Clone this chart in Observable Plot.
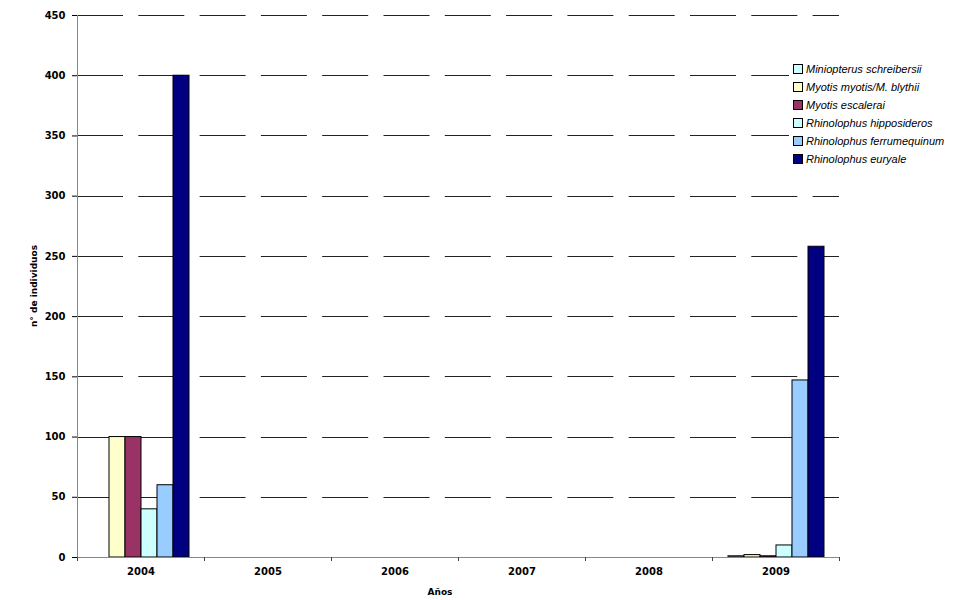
<!DOCTYPE html>
<html><head><meta charset="utf-8">
<script src="https://cdn.jsdelivr.net/npm/d3@7"></script>
<script src="https://cdn.jsdelivr.net/npm/@observablehq/plot@0.6"></script>
<style>
body{margin:0;background:#fff;}
#wrap{position:relative;width:956px;height:600px;}
#legend{position:absolute;left:789px;top:60px;background:#fff;padding:0 6px 0 4px;font:italic 11px "Liberation Sans",Arial,sans-serif;color:#000;}
.item{display:flex;align-items:center;height:18px;white-space:nowrap;}
.sw{width:8px;height:8px;border:1px solid #000;margin-right:3px;flex:none;}
</style></head><body><div id="wrap"><div id="legend"></div></div>
<script>
const years = ["2004", "2005", "2006", "2007", "2008", "2009"];
const species = ["Miniopterus schreibersii", "Myotis myotis/M. blythii", "Myotis escalerai", "Rhinolophus hipposideros", "Rhinolophus ferrumequinum", "Rhinolophus euryale"];
const colors = ["#CCFFFF", "#FFFFCC", "#993366", "#CCFFFF", "#99CCFF", "#000080"];
const miniopterus   = [null, null, null, null, null, 1];
const myotisMyotis  = [100, null, null, null, null, 2];
const myotisEscal   = [100, null, null, null, null, 1];
const hipposideros  = [40, null, null, null, null, 10];
const ferrumequinum = [60, null, null, null, null, 147];
const euryale       = [400, null, null, null, null, 258];
const yTicks = [0, 50, 100, 150, 200, 250, 300, 350, 400, 450];
const xTitle = "Años";
const yTitle = "n° de individuos";

const series = [miniopterus, myotisMyotis, myotisEscal, hipposideros, ferrumequinum, euryale];
const rows = [];
years.forEach((yr, j) => species.forEach((sp, i) => rows.push({year: yr, species: sp, value: series[i][j]})));

const chart = Plot.plot({
  width: 956, height: 600,
  marginTop: 15, marginRight: 116, marginBottom: 43, marginLeft: 76,
  style: {fontFamily: "'DejaVu Sans', Verdana, sans-serif", fontSize: "10px", fontWeight: "bold", background: "#fff", color: "#000"},
  facet: {data: rows, x: "year"},
  fx: {domain: years, paddingInner: 0, paddingOuter: 0, axis: "bottom", tickSize: 0, tickPadding: 10, label: null},
  x: {domain: species, paddingInner: 0, paddingOuter: 0.75, axis: null},
  y: {domain: [0, 450], ticks: yTicks, tickSize: 5, tickPadding: 7, label: null},
  color: {domain: species, range: colors},
  marks: [
    Plot.barY(rows, {x: "species", y1: 0, y2: "value", fill: "species", stroke: "#000", strokeWidth: 1}),
    Plot.ruleY([0], {stroke: "#888"})
  ]
});

const wrap = document.getElementById("wrap");
const legend = document.getElementById("legend");
wrap.insertBefore(chart, legend);

const svg = d3.select(chart);
const ys = chart.scale("y");
const fxs = chart.scale("fx");
const y0 = ys.apply(0), yTop = ys.apply(450);
const xLeft = fxs.apply(years[0]);
const xRight = fxs.apply(years[years.length - 1]) + fxs.bandwidth;
// dashed gridlines across the whole plot area, behind the bars
const grid = svg.insert("g", ":first-child");
yTicks.filter(d => d > 0).forEach(v => {
  const yy = Math.round(ys.apply(v)) + 0.5;
  grid.append("line").attr("x1", xLeft).attr("x2", xRight).attr("y1", yy).attr("y2", yy)
    .attr("stroke", "#222").attr("stroke-dasharray", "46,15.3");
});
const g = svg.append("g");
g.append("line").attr("x1", xLeft + 0.5).attr("x2", xLeft + 0.5).attr("y1", yTop).attr("y2", y0).attr("stroke", "#888");
years.map(yr => fxs.apply(yr)).concat([xRight]).forEach(x => {
  g.append("line").attr("x1", Math.round(x) + 0.5).attr("x2", Math.round(x) + 0.5).attr("y1", y0).attr("y2", y0 + 4).attr("stroke", "#444");
});
g.append("text").attr("x", 440).attr("y", 595).attr("text-anchor", "middle").attr("font-size", 9).text(xTitle);
g.append("text").attr("transform", `translate(37,${(y0 + yTop) / 2})rotate(-90)`).attr("text-anchor", "middle").attr("font-size", 9).text(yTitle);

species.forEach((sp, i) => {
  const it = document.createElement("div");
  it.className = "item";
  const sw = document.createElement("span");
  sw.className = "sw";
  sw.style.background = colors[i];
  const t = document.createElement("span");
  t.textContent = sp;
  it.appendChild(sw); it.appendChild(t);
  legend.appendChild(it);
});
</script>
</body></html>
